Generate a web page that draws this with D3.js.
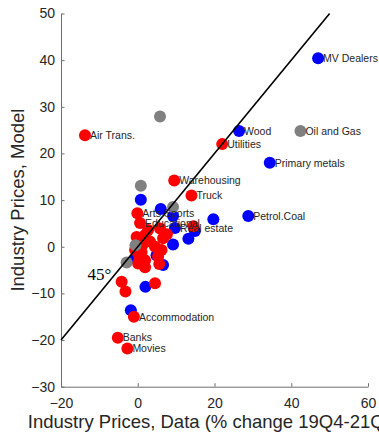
<!DOCTYPE html>
<html>
<head>
<meta charset="utf-8">
<script src="https://cdn.jsdelivr.net/npm/d3@7"></script>
<style>
  html, body { margin: 0; padding: 0; background: #fff; }
  svg { display: block; }
</style>
</head>
<body>
<svg id="chart" width="379" height="436"></svg>
<script>
// ---- data ----
const xTicks = [-20, 0, 20, 40, 60];
const yTicks = [-30, -20, -10, 0, 10, 20, 30, 40, 50];

const blueX = [26.4, 34.4, 47.0, 28.8, 9.7, 0.8, 6.0, 9.2, 19.7, 14.9, 13.2, 9.2, -0.5, 6.6, 2.0, -1.8, 4.9];
const blueY = [24.8, 18.0, 40.4, 6.6, 4.0, 10.1, 8.1, 6.6, 5.9, 3.4, 1.7, 0.5, -2.5, -3.9, -8.6, -13.6, -1.8];
const blueLabel = ["Wood", "Primary metals", "MV Dealers", "Petrol.Coal", "Real estate", "", "", "", "", "", "", "", "", "", "", "", ""];

const redX = [-13.75, 9.5, 14.0, 22.0, -0.1, 0.6, -1.0, -5.2, -2.7,
              14.5, 6.6, 7.6, 1.9, -0.3, 3.2, -0.7, 1.0, 4.5, 6.2, 5.3, 1.9, 0.1, 1.9, 5.6, -4.2, -3.2, 4.5, 1.4, 2.7, 5.8, 0.4];
const redY = [23.9, 14.2, 11.0, 22.0, 7.2, 5.1, -15.0, -19.5, -21.8,
              4.4, 1.8, 2.7, 2.5, 2.1, 1.1, -0.7, -1.1, 0.0, -0.7, -2.1, -2.9, -3.6, -4.4, -3.7, -7.5, -9.6, -7.8, 0.6, 3.6, 3.9, -2.0];
const redLabel = ["Air Trans.", "Warehousing", "Truck", "Utilities", "Arts.Sports", "Educational", "Accommodation", "Banks", "Movies",
                  "", "", "", "", "", "", "", "", "", "", "", "", "", "", "", "", "", "", "", "", "", ""];

const grayX = [42.4, 5.8, 0.8, 9.2, -0.6, -2.9];
const grayY = [24.8, 27.9, 13.1, 8.5, 0.3, -3.4];
const grayLabel = ["Oil and Gas", "", "", "", "", ""];

const lineX = [-20, 50];
const lineY = [-20, 50];

// ---- layout ----
const svg = d3.select("#chart");
const x = d3.scaleLinear().domain([-20, 60]).range([61, 368]);
const y = d3.scaleLinear().domain([-30, 50]).range([386.7, 13.5]);
const axisColor = "#6e6e6e";
const textColor = "#262626";

// axes
const xAxis = d3.axisBottom(x).tickValues(xTicks).tickSizeInner(-3.5).tickSizeOuter(0).tickPadding(8);
const yAxis = d3.axisLeft(y).tickValues(yTicks).tickSizeInner(-3.5).tickSizeOuter(0).tickPadding(6);

const gx = svg.append("g").attr("transform", `translate(0,${y(-30)})`).call(xAxis);
const gy = svg.append("g").attr("transform", `translate(${x(-20)},0)`).call(yAxis);
[gx, gy].forEach(g => {
  g.select(".domain").attr("stroke", axisColor).attr("stroke-width", 1);
  g.selectAll(".tick line").attr("stroke", axisColor).attr("stroke-width", 1);
  g.selectAll(".tick text").attr("fill", textColor)
    .style("font-family", "'Liberation Sans', Arial, sans-serif").style("font-size", "14px");
});
gx.selectAll(".tick text").attr("dy", "0.95em");

// points
function drawSeries(xs, ys, color) {
  svg.append("g").selectAll("circle").data(xs).join("circle")
    .attr("cx", (d) => x(d))
    .attr("cy", (d, i) => y(ys[i]))
    .attr("r", 6)
    .attr("fill", color);
}
drawSeries(blueX, blueY, "#0000ff");
drawSeries(redX, redY, "#ff0000");
drawSeries(grayX, grayY, "#808080");

// 45 degree line
svg.append("line")
  .attr("x1", x(lineX[0])).attr("y1", y(lineY[0]))
  .attr("x2", x(lineX[1])).attr("y2", y(lineY[1]))
  .attr("stroke", "#000").attr("stroke-width", 1.6);

// labels
function drawLabels(xs, ys, labels) {
  const g = svg.append("g");
  labels.forEach((t, i) => {
    if (!t) return;
    g.append("text")
      .attr("x", x(xs[i]) + 5)
      .attr("y", y(ys[i]))
      .attr("dy", "0.36em")
      .attr("fill", textColor)
      .style("font-family", "'Liberation Sans', Arial, sans-serif")
      .style("font-size", "10.5px")
      .text(t);
  });
}
drawLabels(redX, redY, redLabel);
drawLabels(blueX, blueY, blueLabel);
drawLabels(grayX, grayY, grayLabel);

// 45° annotation
svg.append("text")
  .attr("x", x(-13.1)).attr("y", y(-7.1))
  .attr("fill", "#000")
  .attr("font-family", "'Liberation Serif', 'DejaVu Serif', 'Times New Roman', serif")
  .attr("font-size", "17px")
  .text("45°");

// axis labels
svg.append("text")
  .attr("x", (x(-20) + x(60)) / 2).attr("y", 428)
  .attr("text-anchor", "middle")
  .attr("fill", textColor)
  .style("font-family", "'Liberation Sans', Arial, sans-serif")
  .style("font-size", "18.5px")
  .text("Industry Prices, Data (% change 19Q4-21Q4)");

svg.append("text")
  .attr("transform", `translate(24,${(y(-30) + y(50)) / 2}) rotate(-90)`)
  .attr("text-anchor", "middle")
  .attr("fill", textColor)
  .style("font-family", "'Liberation Sans', Arial, sans-serif")
  .style("font-size", "18.5px")
  .text("Industry Prices, Model");
</script>
</body>
</html>
